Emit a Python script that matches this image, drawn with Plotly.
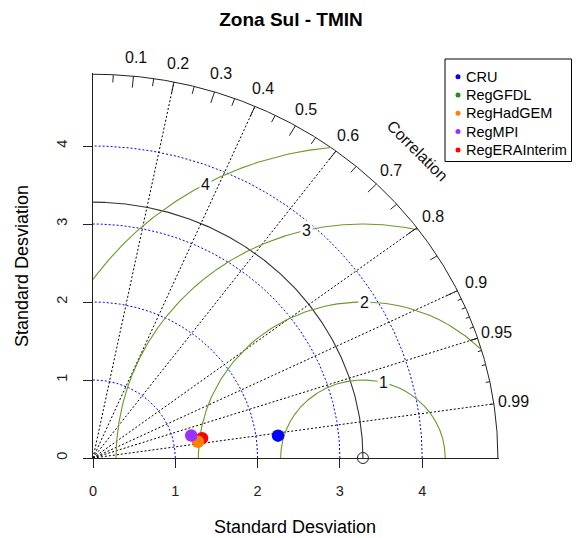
import numpy as np
import plotly.graph_objects as go

# ---- statistics for the Taylor diagram ----
ref_sd = 3.28
models = ["CRU", "RegGFDL", "RegHadGEM", "RegMPI", "RegERAInterim"]
model_sd = [2.266, 1.32, 1.292, 1.228, 1.349]
model_cor = [0.992, 0.984, 0.987, 0.972, 0.982]
model_colors = ["#0000FF", "#228B22", "#FF7F00", "#9B30FF", "#FF0000"]
draw_order = [0, 1, 4, 2, 3]

corr_labels = [0.1, 0.2, 0.3, 0.4, 0.5, 0.6, 0.7, 0.8, 0.9, 0.95, 0.99]
corr_lines = [0.2, 0.4, 0.6, 0.8, 0.9, 0.95, 0.99]
sd_arcs = [1, 2, 3, 4]
rms_levels = [1, 2, 3, 4]
sd_ticks = [0, 1, 2, 3, 4]

maxsd = 1.5 * max(model_sd + [ref_sd])

FONT = "Arial, Liberation Sans, sans-serif"
W, H = 580, 538
ML, MR, MT, MB = 93, 81, 73, 80
PW, PH = W - ML - MR, H - MT - MB
XPX, YPX = 82.3, 78.0  # pixels per unit on each axis
XMAX, YMAX = PW / XPX, PH / YPX


def px_to_paper(px, py):
    return (px - ML) / PW, (H - MB - py) / PH


def data_to_paper(x, y):
    # annotations outside the axis ranges are placed in paper units
    return x / XMAX, y / YMAX


def arc(r, a0=0.0, a1=np.pi / 2, n=400):
    t = np.linspace(a0, a1, n)
    return r * np.cos(t), r * np.sin(t)


fig = go.Figure()

# outer boundary and reference standard-deviation arc
x, y = arc(maxsd)
fig.add_trace(go.Scatter(x=x, y=y, mode="lines", line=dict(color="#222222", width=1),
                         hoverinfo="skip", showlegend=False))
x, y = arc(ref_sd)
fig.add_trace(go.Scatter(x=x, y=y, mode="lines", line=dict(color="#333333", width=1.1),
                         hoverinfo="skip", showlegend=False))

# standard-deviation grid arcs
for r in sd_arcs:
    x, y = arc(r)
    fig.add_trace(go.Scatter(x=x, y=y, mode="lines",
                             line=dict(color="#0000FF", width=1, dash="2px,2px"),
                             hoverinfo="skip", showlegend=False))

# correlation rays
for c in corr_lines:
    fig.add_trace(go.Scatter(x=[0, maxsd * c], y=[0, maxsd * np.sqrt(1 - c * c)], mode="lines",
                             line=dict(color="#000000", width=1, dash="2px,2px"),
                             hoverinfo="skip", showlegend=False))

# centred RMS difference contours around the reference point
GREEN = "#6a9a2c"
for g in rms_levels:
    t = np.linspace(0, np.pi, 3000)
    gx = ref_sd + g * np.cos(t)
    gy = g * np.sin(t)
    keep = (gx >= 0) & (gx * gx + gy * gy <= maxsd * maxsd)
    fig.add_trace(go.Scatter(x=np.where(keep, gx, None), y=np.where(keep, gy, None), mode="lines",
                             line=dict(color=GREEN, width=1.1), connectgaps=False,
                             hoverinfo="skip", showlegend=False))

# tick marks on the correlation arc
tx, ty = [], []
for vals, inner in ((np.arange(0.1, 0.91, 0.1), 0.97),
                    (np.arange(0.05, 0.96, 0.1), 0.98),
                    (np.arange(0.91, 0.995, 0.01), 0.99)):
    for c in vals:
        a = np.arccos(c)
        tx += [np.cos(a) * maxsd, np.cos(a) * inner * maxsd, None]
        ty += [np.sin(a) * maxsd, np.sin(a) * inner * maxsd, None]
fig.add_trace(go.Scatter(x=tx, y=ty, mode="lines", line=dict(color="#222222", width=1),
                         hoverinfo="skip", showlegend=False))

# reference point
fig.add_trace(go.Scatter(x=[ref_sd], y=[0], mode="markers", cliponaxis=False,
                         marker=dict(symbol="circle-open", size=11, color="#222222",
                                     line=dict(width=1, color="#222222")),
                         hoverinfo="skip", showlegend=False))

# model points
for i in draw_order:
    a = np.arccos(model_cor[i])
    fig.add_trace(go.Scatter(x=[model_sd[i] * np.cos(a)], y=[model_sd[i] * np.sin(a)],
                             mode="markers", name=models[i], cliponaxis=False,
                             marker=dict(size=12.5, color=model_colors[i]),
                             showlegend=False))

ann = []
# correlation labels just outside the arc
for c in corr_labels:
    a = np.arccos(c)
    px, py = data_to_paper(np.cos(a) * 1.05 * maxsd, np.sin(a) * 1.05 * maxsd)
    ann.append(dict(xref="paper", yref="paper", x=px, y=py, text=f"{c:g}",
                    showarrow=False, font=dict(size=16, color="#111111", family=FONT),
                    xanchor="center", yanchor="middle"))
px, py = data_to_paper(0.8 * maxsd, 0.8 * maxsd)
ann.append(dict(xref="paper", yref="paper", x=px, y=py, text="Correlation", textangle=45,
                showarrow=False, xanchor="center", yanchor="middle",
                font=dict(size=16, color="#111111", family=FONT)))

# RMS contour labels on a white box
label_idx = np.floor(np.linspace(45, 70, len(rms_levels))).astype(int) - 1
for g, k in zip(rms_levels, label_idx):
    t = 0.03 * k
    ann.append(dict(x=ref_sd + g * np.cos(t), y=g * np.sin(t), text=str(g), showarrow=False,
                    bgcolor="white", borderpad=1, xanchor="center", yanchor="middle",
                    font=dict(size=16, color="#111111", family=FONT)))

# axis titles
px, py = px_to_paper(295, 527)
ann.append(dict(xref="paper", yref="paper", x=px, y=py, text="Standard Desviation",
                showarrow=False, xanchor="center", yanchor="middle",
                font=dict(size=18, color="#000000", family=FONT)))
px, py = px_to_paper(22, 266)
ann.append(dict(xref="paper", yref="paper", x=px, y=py, text="Standard Desviation", textangle=-90,
                showarrow=False, xanchor="center", yanchor="middle",
                font=dict(size=18, color="#000000", family=FONT)))

# legend box
shapes = []
x0, y0 = px_to_paper(445, 59)
x1, y1 = px_to_paper(571.5, 161.5)
shapes.append(dict(type="rect", xref="paper", yref="paper", x0=x0, y0=y0, x1=x1, y1=y1,
                   line=dict(color="#000000", width=1), fillcolor="white", layer="above"))
for i, name in enumerate(models):
    cy = 76.7 + i * 18.3
    dx0, dy0 = px_to_paper(455.5, cy - 2.5)
    dx1, dy1 = px_to_paper(460.5, cy + 2.5)
    shapes.append(dict(type="circle", xref="paper", yref="paper", x0=dx0, y0=dy0, x1=dx1, y1=dy1,
                       line=dict(width=0), fillcolor=model_colors[i], layer="above"))
    tx_, ty_ = px_to_paper(464, cy)
    ann.append(dict(xref="paper", yref="paper", x=tx_, y=ty_, text=name, showarrow=False,
                    xanchor="left", yanchor="middle",
                    font=dict(size=14.5, color="#000000", family=FONT)))

fig.update_layout(
    width=W, height=H, autosize=False,
    margin=dict(l=ML, r=MR, t=MT, b=MB, pad=0),
    paper_bgcolor="white", plot_bgcolor="white",
    title=dict(text="<b>Zona Sul - TMIN</b>", x=291 / W, y=1 - 19 / H, xref="container",
               yref="container", xanchor="center", yanchor="middle",
               font=dict(size=19, color="#000000", family=FONT)),
    xaxis=dict(range=[0, XMAX], showgrid=False, zeroline=False, showline=True,
               linecolor="#222222", linewidth=1, ticks="outside", ticklen=9, tickwidth=1,
               tickcolor="#222222", tickvals=sd_ticks, ticktext=[str(v) for v in sd_ticks],
               tickfont=dict(size=14.5, color="#222222", family=FONT), ticklabelstandoff=11,
               automargin=False, fixedrange=True),
    yaxis=dict(range=[0, YMAX], showgrid=False, zeroline=False, showline=True,
               linecolor="#222222", linewidth=1, ticks="outside", ticklen=9, tickwidth=1,
               tickcolor="#222222", tickvals=sd_ticks, ticktext=[str(v) for v in sd_ticks],
               tickangle=-90, tickfont=dict(size=14.5, color="#222222", family=FONT),
               ticklabelstandoff=10, automargin=False, fixedrange=True),
    annotations=ann,
    shapes=shapes,
)

fig.write_html("out.html")
